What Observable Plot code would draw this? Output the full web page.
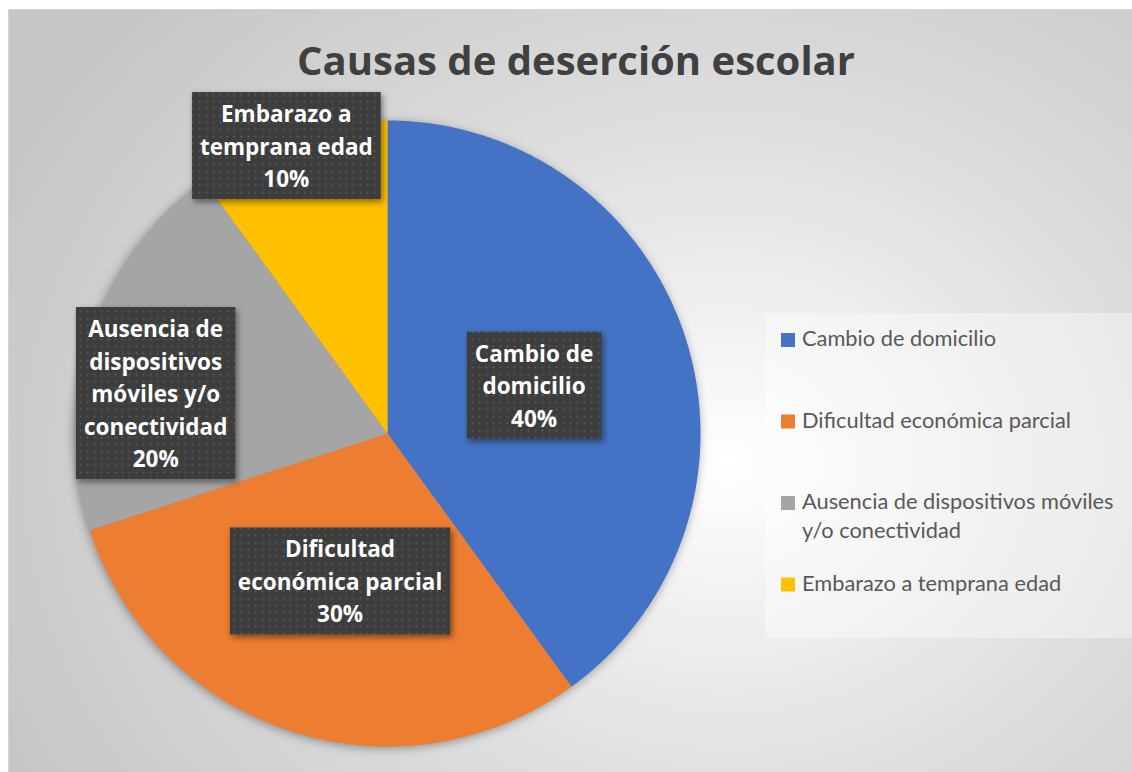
<!DOCTYPE html>
<html><head><meta charset="utf-8">
<script src="https://cdn.jsdelivr.net/npm/d3@7"></script>
<script src="https://cdn.jsdelivr.net/npm/@observablehq/plot@0.6"></script>
<style>
html,body{margin:0;padding:0;background:#fff;}
#wrap{position:relative;width:1132px;height:772px;overflow:hidden;}
#bg{position:absolute;left:8px;top:9px;width:1140px;height:780px;border:1px solid #d4d4d4;
 background:radial-gradient(ellipse 70% 85% at 63% 58%, #ffffff 0%, #f3f3f3 18%, #dcdcdc 55%, #c6c6c6 100%);}
#wrap svg{position:absolute;left:0;top:0;}
</style></head><body><div id="wrap"><div id="bg"></div></div>
<script>
// ---- data ----
const categories = ["Cambio de domicilio","Dificultad económica parcial","Ausencia de dispositivos móviles y/o conectividad","Embarazo a temprana edad"];
const percentages = [40, 30, 20, 10];
const colors = ["#4472C4","#ED7D31","#A5A5A5","#FFC000"];
const labelLines = [["Cambio de","domicilio"],["Dificultad","económica parcial"],["Ausencia de","dispositivos","móviles y/o","conectividad"],["Embarazo a","temprana edad"]];
const title = "Causas de deserción escolar";

// ---- layout (label placement: radius fraction, angle shift in degrees) ----
const labelPlace = [{r:0.494,da:0},{r:0.496,da:-0.4},{r:0.75,da:-8.2},{r:0.973,da:-1.3}];

const total = d3.sum(percentages);
let acc = 0;
const slices = categories.map((c,i)=>{
  const s = acc/total*2*Math.PI; acc += percentages[i]; const e = acc/total*2*Math.PI;
  return {cat:c, start:s, end:e, mid:(s+e)/2, i};
});
const pts = [];
for (const sl of slices){
  pts.push({cat:sl.cat, x:0, y:0});
  const n = Math.max(2, Math.ceil((sl.end-sl.start)/(Math.PI/360)));
  for (let k=0;k<=n;k++){const a = sl.start+(sl.end-sl.start)*k/n; pts.push({cat:sl.cat, x:Math.sin(a), y:Math.cos(a)});}
  pts.push({cat:sl.cat, x:0, y:0});
}

const plot = Plot.plot({
  width:1132, height:772,
  marginLeft:74, marginRight:432, marginTop:120, marginBottom:26,
  x:{domain:[-1,1], axis:null},
  y:{domain:[-1,1], axis:null},
  color:{domain:categories, range:colors},
  style:{background:"transparent", overflow:"visible", fontFamily:"Lato"},
  marks:[
    Plot.line(pts, {x:"x", y:"y", z:"cat", fill:"cat", stroke:"none", curve:"linear"})
  ]
});
document.getElementById("wrap").appendChild(plot);
const svg = d3.select(plot);
svg.select('g[aria-label="line"]').style("filter","drop-shadow(-1px 2px 5px rgba(0,0,0,0.35))");

const defs = svg.append("defs");
const pat = defs.append("pattern").attr("id","dots").attr("width",7).attr("height",7).attr("patternUnits","userSpaceOnUse");
pat.append("rect").attr("width",7).attr("height",7).attr("fill","#3c3c3c");
pat.append("circle").attr("cx",3.5).attr("cy",3.5).attr("r",1.1).attr("fill","#575757");
const f = defs.append("filter").attr("id","shadow").attr("x","-20%").attr("y","-20%").attr("width","140%").attr("height","140%");
f.append("feDropShadow").attr("dx",2).attr("dy",3).attr("stdDeviation",3).attr("flood-color","#000").attr("flood-opacity",0.45);

const sx = plot.scale("x"), sy = plot.scale("y");
const lineH = 32.5;
slices.forEach((sl,i)=>{
  const p = labelPlace[i];
  const a = sl.mid + p.da*Math.PI/180;
  const cx = sx.apply(p.r*Math.sin(a)), cy = sy.apply(p.r*Math.cos(a));
  const lines = [...labelLines[i], percentages[i] + "%"];
  const g = svg.append("g");
  const rect = g.append("rect").attr("fill","url(#dots)").attr("filter","url(#shadow)");
  const t = g.append("text").attr("text-anchor","middle").attr("fill","#fff")
    .attr("font-family","Open Sans").attr("font-weight","bold").attr("font-size",22.5);
  let maxW = 0;
  lines.forEach((ln,k)=>{
    const ts = t.append("tspan").attr("x",cx).attr("y", cy - (lines.length-1)/2*lineH + k*lineH + 9).text(ln);
    maxW = Math.max(maxW, ts.node().getComputedTextLength());
  });
  const w = maxW + 16, h = lines.length*lineH + 9.5;
  rect.attr("x",cx-w/2).attr("y",cy-h/2).attr("width",w).attr("height",h);
});

// title
svg.append("text").attr("x",576).attr("y",75).attr("text-anchor","middle")
  .attr("font-family","Open Sans").attr("font-weight","bold").attr("font-size",40).attr("fill","#404040").text(title);

// legend
svg.append("rect").attr("x",765).attr("y",313).attr("width",400).attr("height",325).attr("fill","rgba(255,255,255,0.38)");
categories.forEach((c,i)=>{
  const base = 346 + i*81.5;
  svg.append("rect").attr("x",781).attr("y",base-13).attr("width",14).attr("height",14).attr("fill",colors[i]);
  const t = svg.append("text").attr("text-anchor","start").attr("font-family","Lato").attr("font-size",21.8).attr("fill","#595959");
  const words = c.split(" ");
  let line = [], k = 0;
  let ts = t.append("tspan").attr("x",802).attr("y",base);
  for (const w of words){
    line.push(w); ts.text(line.join(" "));
    if (ts.node().getComputedTextLength() > 324 && line.length>1){
      line.pop(); ts.text(line.join(" ")); line=[w]; k++;
      ts = t.append("tspan").attr("x",802).attr("y",base + k*28.5).text(w);
    }
  }
});
</script></body></html>
